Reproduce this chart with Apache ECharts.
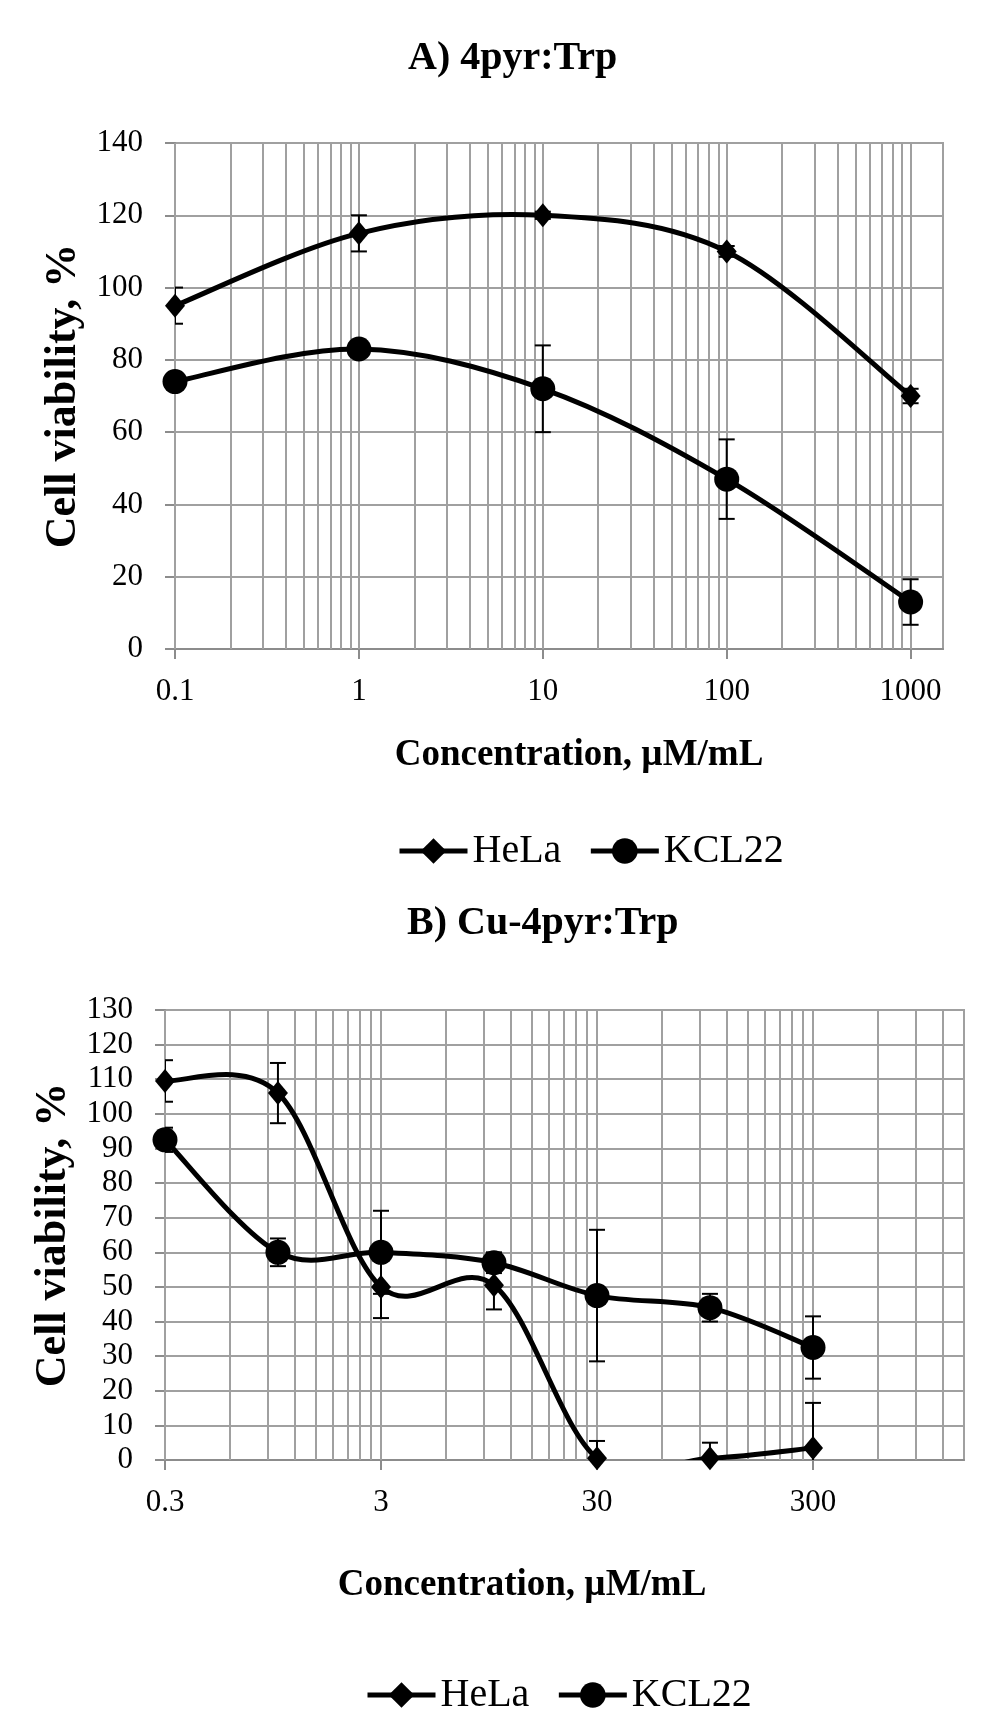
<!DOCTYPE html>
<html>
<head>
<meta charset="utf-8">
<script src="https://cdn.jsdelivr.net/npm/echarts@6/dist/echarts.min.js"></script>
<style>
  body { margin: 0; background: #fff; }
  #main { width: 1000px; height: 1735px; }
</style>
</head>
<body>
<div id="main"></div>
<script>
// A) 4pyr:Trp
const concA = [0.1, 1, 10, 100, 1000];
const helaA = [95, 115, 120, 110, 70];
const helaErrA = [5, 5, 1, 1.5, 2];
const kclA = [74, 83, 72, 47, 13];
const kclErrA = [1, 1, 12, 11, 6.3];
const ticksA = [0.1, 1, 10, 100, 1000];

// B) Cu-4pyr:Trp
const concB = [0.3, 1, 3, 10, 30, 100, 300];
const helaB = [109.5, 106, 50, 50.5, 0.5, 0.5, 3.5];
const helaErrB = [6, 8.7, 9, 7, 5, 4.5, 13];
const kclB = [92.5, 60, 60, 57, 47.5, 44, 32.5];
const kclErrB = [3.5, 4, 12, 3, 19, 4, 9];
const ticksB = [0.3, 3, 30, 300];

const serif = "'Liberation Serif', 'Times New Roman', serif";
const gridColor = '#a0a0a0';

// vertical gridlines of a log axis: each decade start plus 2..9 times it
function logGrid(starts, max) {
    let out = [];
    starts.forEach(function (d) {
        for (let k = 1; k <= 9; k++) {
            let v = +(d * k).toPrecision(6);
            if (v < max) out.push(v);
        }
    });
    return out;
}

function zip(xs, ys) {
    return xs.map(function (x, i) { return [x, ys[i]]; });
}

function xAxisOf(gi, min, max, ticks, namePad, nameGap) {
    return {
        type: 'log', logBase: 10, gridIndex: gi, min: min, max: max,
        name: 'Concentration, µM/mL', nameLocation: 'middle', nameGap: nameGap,
        nameTextStyle: { fontFamily: serif, fontSize: 37, fontWeight: 'bold', color: '#000', padding: namePad },
        axisLine: { show: true, lineStyle: { color: '#8c8c8c', width: 2 } },
        axisTick: { show: true, length: 10, customValues: ticks, lineStyle: { color: '#8c8c8c', width: 2 } },
        axisLabel: {
            customValues: ticks, margin: 27, fontFamily: serif, fontSize: 31, color: '#000',
            formatter: function (v) { return String(+v.toPrecision(6)); }
        },
        splitLine: { show: false },
        minorTick: { show: false },
        minorSplitLine: { show: false }
    };
}

function yAxisOf(gi, max, interval) {
    return {
        type: 'value', gridIndex: gi, min: 0, max: max, interval: interval,
        name: 'Cell viability, %', nameLocation: 'middle', nameGap: 88,
        nameTextStyle: { fontFamily: serif, fontSize: 44, fontWeight: 'bold', color: '#000' },
        axisLine: { show: true, lineStyle: { color: '#8c8c8c', width: 2 } },
        axisTick: { show: true, length: 10, lineStyle: { color: '#8c8c8c', width: 2 } },
        axisLabel: { margin: 32, fontFamily: serif, fontSize: 31, color: '#000' },
        splitLine: { show: true, lineStyle: { color: gridColor, width: 2 } }
    };
}

// markers only; the smoothed curve is drawn by curveSeries
function pointSeries(name, gi, conc, vals, symbol, size) {
    return {
        name: name, type: 'line', xAxisIndex: gi, yAxisIndex: gi,
        data: zip(conc, vals), clip: true, z: 5,
        symbol: symbol, symbolSize: size, showAllSymbol: true,
        lineStyle: { color: '#000', width: 5, opacity: 0 },
        itemStyle: { color: '#000' }
    };
}

// Excel-like smoothed line (Catmull-Rom through the points, in pixel space)
function curveSeries(name, gi, conc, vals) {
    let pts = zip(conc, vals);
    let n = pts.length;
    return {
        name: name, type: 'custom', xAxisIndex: gi, yAxisIndex: gi, clip: true, z: 4, silent: true,
        data: pts,
        encode: { x: 0, y: 1 },
        renderItem: function (params, api) {
            let i = params.dataIndex;
            if (i >= n - 1) return null;
            let p0 = api.coord(pts[Math.max(i - 1, 0)]);
            let p1 = api.coord(pts[i]);
            let p2 = api.coord(pts[i + 1]);
            let p3 = api.coord(pts[Math.min(i + 2, n - 1)]);
            return {
                type: 'bezierCurve',
                shape: {
                    x1: p1[0], y1: p1[1], x2: p2[0], y2: p2[1],
                    cpx1: p1[0] + (p2[0] - p0[0]) / 6, cpy1: p1[1] + (p2[1] - p0[1]) / 6,
                    cpx2: p2[0] - (p3[0] - p1[0]) / 6, cpy2: p2[1] - (p3[1] - p1[1]) / 6
                },
                style: { stroke: '#000', lineWidth: 5, fill: null, lineCap: 'round' }
            };
        }
    };
}

function errSeries(name, gi, conc, vals, errs) {
    return {
        name: name, type: 'custom', xAxisIndex: gi, yAxisIndex: gi, clip: true, z: 3, silent: true,
        data: conc.map(function (c, i) { return [c, vals[i] - errs[i], vals[i] + errs[i]]; }),
        encode: { x: 0, y: [1, 2] },
        renderItem: function (params, api) {
            let hi = api.coord([api.value(0), api.value(2)]);
            let lo = api.coord([api.value(0), api.value(1)]);
            let w = 8;
            let st = { stroke: '#000', lineWidth: 2 };
            return {
                type: 'group',
                children: [
                    { type: 'line', shape: { x1: hi[0], y1: hi[1], x2: lo[0], y2: lo[1] }, style: st },
                    { type: 'line', shape: { x1: hi[0] - w, y1: hi[1], x2: hi[0] + w, y2: hi[1] }, style: st },
                    { type: 'line', shape: { x1: lo[0] - w, y1: lo[1], x2: lo[0] + w, y2: lo[1] }, style: st }
                ]
            };
        }
    };
}

function gridLines(name, gi, vals) {
    return {
        name: name, type: 'line', xAxisIndex: gi, yAxisIndex: gi, data: [], silent: true,
        markLine: {
            silent: true, symbol: 'none', z: 1, animation: false,
            label: { show: false },
            lineStyle: { color: gridColor, width: 2, type: 'solid' },
            emphasis: { disabled: true },
            data: vals.map(function (v) { return { xAxis: v }; })
        }
    };
}

function legendOf(left, top) {
    return {
        data: ['HeLa', 'KCL22'], left: left, top: top,
        itemWidth: 68, itemHeight: 32, itemGap: 27,
        lineStyle: { color: '#000', width: 5, opacity: 1 },
        textStyle: { fontFamily: serif, fontSize: 40, color: '#000' }
    };
}

let chart = echarts.init(document.getElementById('main'));
let option = {
    animation: false,
    backgroundColor: '#fff',
    title: [
        { text: 'A) 4pyr:Trp', left: 403, top: 34, textStyle: { fontFamily: serif, fontSize: 40, fontWeight: 'bold', color: '#000' } },
        { text: 'B) Cu-4pyr:Trp', left: 402, top: 899, textStyle: { fontFamily: serif, fontSize: 40, fontWeight: 'bold', color: '#000' } }
    ],
    legend: [legendOf(392, 826), legendOf(360, 1670)],
    grid: [
        { left: 175, top: 143, width: 768, height: 506, show: true, borderColor: gridColor, borderWidth: 2, outerBoundsMode: 'none' },
        { left: 165, top: 1010, width: 799, height: 450, show: true, borderColor: gridColor, borderWidth: 2, outerBoundsMode: 'none' }
    ],
    xAxis: [
        xAxisOf(0, 0.1, 1500, ticksA, [0, 0, 0, 40], 88),
        xAxisOf(1, 0.3, 1500, ticksB, [0, 85, 0, 0], 107)
    ],
    yAxis: [
        yAxisOf(0, 140, 20),
        yAxisOf(1, 130, 10)
    ],
    series: [
        gridLines('gridA', 0, logGrid(ticksA, 1500)),
        errSeries('errHelaA', 0, concA, helaA, helaErrA),
        errSeries('errKclA', 0, concA, kclA, kclErrA),
        curveSeries('curveHelaA', 0, concA, helaA),
        curveSeries('curveKclA', 0, concA, kclA),
        pointSeries('HeLa', 0, concA, helaA, 'diamond', [20, 24]),
        pointSeries('KCL22', 0, concA, kclA, 'circle', 25),

        gridLines('gridB', 1, logGrid(ticksB, 1500)),
        errSeries('errHelaB', 1, concB, helaB, helaErrB),
        errSeries('errKclB', 1, concB, kclB, kclErrB),
        curveSeries('curveHelaB', 1, concB, helaB),
        curveSeries('curveKclB', 1, concB, kclB),
        pointSeries('HeLa', 1, concB, helaB, 'diamond', [20, 24]),
        pointSeries('KCL22', 1, concB, kclB, 'circle', 25)
    ]
};
chart.setOption(option);
window.addEventListener('resize', function () {
    chart.resize();
});
</script>
</body>
</html>
